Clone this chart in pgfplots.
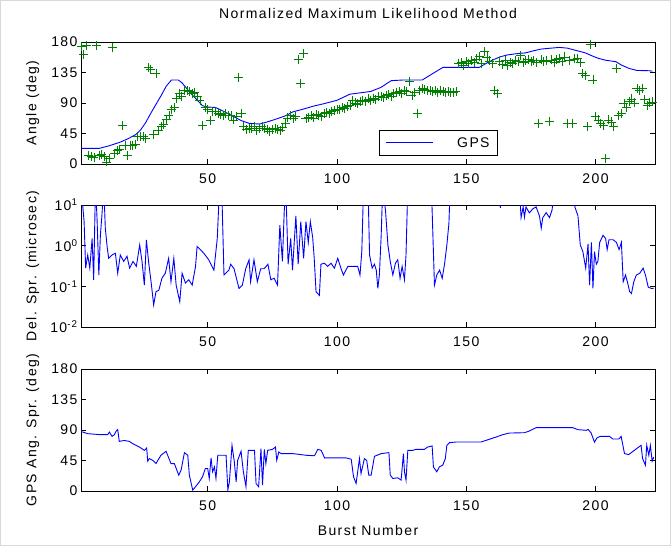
\documentclass[border=0pt]{standalone}
\usepackage{fontspec}
\setmainfont{Liberation Sans}[LetterSpace=10]
\usepackage{pgfplots}
\pgfplotsset{compat=1.18}
\definecolor{mgreen}{rgb}{0,0.5,0}
\pgfplotsset{myax/.style={
  width=574pt, height=122pt, scale only axis,
  xmin=1, xmax=223, xtick={50,100,150,200},
  tick align=inside, major tick length=5pt, minor tick length=0pt,
  axis line style={line width=0.8pt, black},
  every tick/.style={line width=0.8pt, black},
  /pgf/number format/assume math mode=true,
  xticklabel style={yshift=-6pt},
  ylabel style={at={(axis description cs:-0.084,0.5)}, anchor=center},
  clip=true,
}}
\begin{document}
\begin{tikzpicture}[font=\fontsize{14}{16}\selectfont]
\useasboundingbox (0,0) rectangle (671pt,546pt);
\draw[black!15, line width=1pt] (0.5pt,0.5pt) rectangle (670.5pt,545.5pt);
% Panel 1
\begin{axis}[myax, at={(81pt,382pt)}, anchor=south west,
  ymin=0, ymax=180, ytick={0,45,90,135,180},
  ylabel={Angle (deg)},
  title={Normalized Maximum Likelihood Method},
  title style={at={(axis description cs:0.5,1)}, anchor=center, yshift=22pt},
  legend style={at={(0.519,0.066)}, anchor=south west, draw=black, line width=0.8pt, inner xsep=6pt, inner ysep=5pt},
  legend image code/.code={\draw[blue, line width=0.9pt] (0pt,0pt) -- (47pt,0pt);},
]
\addplot[blue, line width=0.9pt] coordinates {
(1,23)(8,23)(12,27)(16,32)(19,37)(22,43)(24,50)(26,61)(28,75)(30,88)(32,101)(34,115)(36,124)(38.6,124)(40,120)(42,111)(44,102)(46,94)(48,86)(50,84)(53,83.5)(56,78)(60,70)(63,64)(66,60)(70,59)(73,62)(77,67)(80,71)(83,77)(87,81)(91,85.5)(95,89)(100,94)(105,103)(109,105)(113,107)(117,113)(121,123)(126,124)(133,124)(136,131)(139,138)(141,142.6)(150,142.6)(155,142.6)(158,149)(160,153)(163,158)(166,161)(170,163)(173,164)(176,167)(179,169.6)(183,171)(186,172)(189,171)(191,169)(194,166)(196,164)(199,159)(201,156)(204,153)(207.8,151)(210,146)(213,141)(216,138)(220.7,137.6)(222,137)
};
\addlegendentry{\hspace{22pt}GPS\hspace{18pt}}
\addplot[only marks, mark=+, mark size=4.5pt, mgreen, line width=0.8pt, forget plot] coordinates {
(1,174)(2,162)(3,175)(4,13)(5,11)(6,10)(7,175)(8,12)(9,14)(10,11)(11,3)(12,8)(13,172)(14,15)(15,20)(16,22)(17,57)(18,28)(19,12)(20,28)
(21,28)(22,29)(23,41)(24,41)(25,40)(26,38)(27,142)(28,140)(29,44)(30,134)(31,50)(32,55)(33,59)(34,66)(35,72)(36,80)(37,84)(38,97)(39,104)(40,99)
(41,109)(42,108)(43,107)(44,104)(45,106)(46,99)(47,94)(48,57)(49,84)(50,80)(51,64)(52,77)(53,77)(54,75)(55,73)(56,72)(57,75)(58,71)(59,72)(60,65)
(61,70)(62,128)(63,75)(64,55.5)(65,50.5)(66,53)(67,52)(68,55.5)(69,50)(70,53)(71,55)(72,53)(73,51.5)(74,48)(75,50.5)(76,53)(77,51.5)(78,49)(79,54.5)(80,60)
(81,68)(82,72)(83,67)(84,70)(85,154.6)(86,119)(87,163)(88,67)(89,69)(90,71)(91,68)(92,73)(93,72)(94,70)(95,75)(96,76)(97,74)(98,77)(99,79)(100,80)
(101,81)(102,83)(103,82)(104,84.5)(105,86)(106,94)(107,90)(108,88.6)(109,92)(110,94.4)(111,92)(112,96)(113,94.4)(114,97)(115,95)(116,99)(117,100)(118,98)(119,101.6)(120,103)
(121,100)(122,104)(123,105)(124,106.7)(125,104)(126,109)(127,107)(128,121.5)(129,101.6)(130,106)(131,74.7)(132,108)(133,111.6)(134,110)(135,108)(136,109)(137,107)(138,108)(139,106)(140,108)
(141,107)(142,106)(143,106.7)(144,105)(145,106)(146,106.7)(147,148.5)(148,150)(149,145)(150,151)(151,149)(152,153)(153,150)(154,155)(155,158.3)(156,148)(157,165.6)(158,158)(159,152)(160,148.5)
(161,109)(162,104)(163,151)(164,147)(165,153)(166,145)(167,150)(168,148.5)(169,153)(170,151)(171,160.8)(172,150)(173,152)(174,154.5)(175,151)(176,153)(177,150)(178,60.4)(179,153.5)(180,151)
(181,152)(182,63)(183,153.5)(184,150)(185,154)(186,156)(187,151)(188,158)(189,60.4)(190,153)(191,60.4)(192,155)(193,156)(194,150)(195,134)(196,130)(197,55.5)(198,176)(199,124)(200,70)
(201,65)(202,60)(203,57.5)(204,8.4)(205,65)(206,62)(207,55.5)(208,141)(209,72)(210,75)(211,89)(212,84)(213,92)(214,96)(215,90)(216,111)(217,108)(218,111)(219,95)(220,86.5)(221,90)(222,91.5)
};
\end{axis}
% Panel 2
\begin{axis}[myax, at={(81pt,219pt)}, anchor=south west,
  ymode=log, ymin=0.01, ymax=10,
  ytick={0.01,0.1,1,10},
  yticklabels={10\textsuperscript{-2},10\textsuperscript{-1},10\textsuperscript{0},10\textsuperscript{1}},
  ylabel={Del. Spr. (microsec)},
]
\addplot[blue, line width=0.9pt] coordinates {
(1,30)(2.2,3.9)(2.8,0.28)(3.6,0.59)(4.4,0.28)(5.3,1.5)(5.9,0.145)(6.6,30)(7.2,4.8)(7.9,0.19)(8.5,1.8)(9.1,5.7)(9.8,30)(10.4,2.7)(11.1,0.95)(11.7,0.49)(13,0.59)(14.3,0.65)(15.2,0.21)(16.2,0.59)(17.5,0.41)(18.8,0.55)(19.8,0.28)(21.1,0.41)(22.4,0.31)(23.7,1.04)(24.6,0.41)(25.5,0.107)(26.3,1.38)(27.2,0.37)(28.1,0.13)(29.1,0.035)(30,0.074)(31.1,0.08)(32.3,0.158)(33.6,0.21)(34.9,0.49)(35.8,0.13)(36.9,0.49)(37.8,0.107)(39.2,0.042)(40.1,0.21)(41.4,0.12)(42.7,0.145)(44,0.107)(45.3,0.31)(45.9,0.95)(47.2,0.8)(48.5,0.65)(50.4,0.45)(52.4,0.25)(53.7,1.5)(54.6,30)(55.4,30)(56.3,0.19)(58.2,0.25)(58.9,0.35)(60.2,0.27)(62.1,0.089)(63.4,0.107)(64.7,0.27)(66,0.45)(66.6,0.13)(67.9,0.45)(69.2,0.13)(70.5,0.27)(71.8,0.27)(73.3,0.35)(74.4,0.145)(75.7,0.158)(77,0.107)(77.9,3.2)(78.9,0.41)(79.6,6.9)(80.2,30)(81.1,0.35)(82.1,1.5)(82.8,0.25)(84.1,5.4)(85,0.35)(86,3.9)(87.1,0.49)(88,3.9)(88.9,1.2)(89.7,3.9)(90.6,1.6)(91.2,0.49)(91.9,0.074)(93.2,0.06)(93.8,0.35)(95.1,0.37)(96.4,0.31)(97.7,0.37)(99,0.28)(100.3,0.49)(101.6,0.27)(102.5,0.19)(104.2,0.31)(106.1,0.31)(108,0.31)(108.9,0.19)(109.6,0.71)(110.3,30)(111.2,30)(112,30)(112.6,0.59)(113.6,0.28)(114.5,0.35)(115.2,0.25)(115.8,0.089)(116.4,0.19)(117.1,1.8)(117.7,30)(118.8,6.9)(119.7,1.04)(120.6,0.41)(121.6,0.19)(122.6,0.37)(123.5,0.45)(124.4,0.158)(125.2,0.31)(126.1,0.145)(126.7,0.59)(127.4,30)(136.5,30)(137.1,1.8)(137.7,0.107)(138.6,0.19)(139.7,0.25)(140.7,0.158)(141.6,0.35)(142.5,1.04)(143.3,3.6)(143.8,30)(162.8,30)(163.2,8.5)(163.6,30)(170.5,30)(171.2,4.9)(172,9)(172.5,5)(173.1,9)(174.4,6.4)(175.7,8)(177,9)(178.3,5.4)(179,2.7)(179.6,4.9)(180.9,6.5)(182.2,4.9)(183.2,7.6)(184.1,30)(191.5,30)(192,9)(193.2,5.4)(194.1,1.04)(195.1,0.71)(196.2,0.28)(197.1,1.1)(197.7,0.107)(198.4,1.2)(199,0.089)(199.6,0.71)(200.3,0.35)(200.9,0.41)(201.6,1.2)(202.9,1.8)(203.9,1.5)(204.5,0.8)(205.2,1.4)(206.8,1.4)(208.1,1.2)(209.1,0.8)(210,1.2)(210.7,0.13)(211.6,0.19)(212.3,0.13)(213.2,0.074)(213.9,0.067)(214.8,0.13)(215.8,0.19)(217.1,0.21)(218.4,0.28)(219.3,0.19)(220.4,0.095)(221.6,0.089)(222.5,0.089)
};
\end{axis}
% Panel 3
\begin{axis}[myax, at={(81pt,55pt)}, anchor=south west,
  ymin=0, ymax=180, ytick={0,45,90,135,180},
  ylabel={GPS Ang. Spr. (deg)},
  xlabel={Burst Number},
  xlabel style={at={(axis description cs:0.5,0)}, anchor=center, yshift=-39pt},
]
\addplot[blue, line width=0.9pt] coordinates {
(1,87.8)(3.6,84.6)(8.1,83.2)(11.3,83.2)(12,86.9)(13,80.6)(13.9,83)(14.5,87.8)(15.2,90.7)(15.8,73.2)(17.7,74.6)(19.7,73.2)(21,69.8)(23.6,64.9)(25.5,60)(26.4,63.5)(26.8,44)(27.4,47.8)(28.7,45.4)(30,40.5)(31.9,52.7)(33.9,58.6)(35.8,40.5)(37.1,40.5)(38.8,23.4)(39.7,30.7)(41,56.6)(42.3,52.7)(42.9,23.4)(44.2,1.5)(44.8,3.9)(46.8,13.7)(48,21)(49.1,33.2)(50,33.2)(50.6,18.5)(51.3,48.8)(51.9,28.3)(52.6,35.6)(53.2,18.5)(53.9,52.7)(55.8,52.7)(57.1,52.7)(57.8,1.5)(58.4,13.7)(59.4,67.4)(60.3,43)(61,13.7)(61.6,45.4)(62.9,58.6)(63.8,28.3)(64.8,6.3)(65.7,60)(68.1,60)(68.7,11.2)(69.7,6.3)(70.6,62.5)(71.2,8.8)(71.9,61.5)(72.5,40.5)(73.2,60)(75.1,61.5)(76.2,64.9)(76.7,45.4)(77.5,57.6)(78.4,55.2)(82.9,55.2)(88.1,52.7)(91.3,52)(92.6,61.5)(93.9,60)(95.2,48.8)(103.6,48.8)(105.5,46.9)(106.4,21)(107.4,11.2)(108.7,47.8)(109.3,25.8)(110.6,47.8)(111.5,45)(112.3,23.4)(113.2,23.4)(114.5,51.2)(117.1,55.2)(120.1,56.6)(120.6,23.4)(121.6,18.5)(123.5,19.5)(124.8,16.1)(125.7,55.2)(126.1,28.3)(126.7,16.1)(127.4,60)(129.3,60)(130.6,61.5)(133.8,61.5)(135.1,64.9)(136.8,66.4)(137.3,35.6)(138.6,28.3)(139.6,35.6)(140.9,38)(141.9,47.8)(142.5,67.4)(143.5,71.3)(146.1,72.3)(155.7,72.3)(157.7,74.8)(159.6,77.2)(161.6,79.7)(164.1,83.1)(166.7,85.5)(172.5,86)(174.4,88.5)(177,93.4)(191.2,93.4)(193.2,90.5)(196.4,89.5)(197.1,91)(198.3,85.6)(199.6,72)(200.5,78.2)(201.8,80.6)(205.4,80.6)(206.7,76.7)(209,76.7)(209.9,80.6)(211.2,55.2)(212.8,53.7)(215,60)(217.6,67.4)(218.2,47.8)(219.3,38)(219.8,67.4)(220.6,52.7)(221.2,67.4)(221.9,44)(222.5,50)
};
\end{axis}
\end{tikzpicture}
\end{document}
